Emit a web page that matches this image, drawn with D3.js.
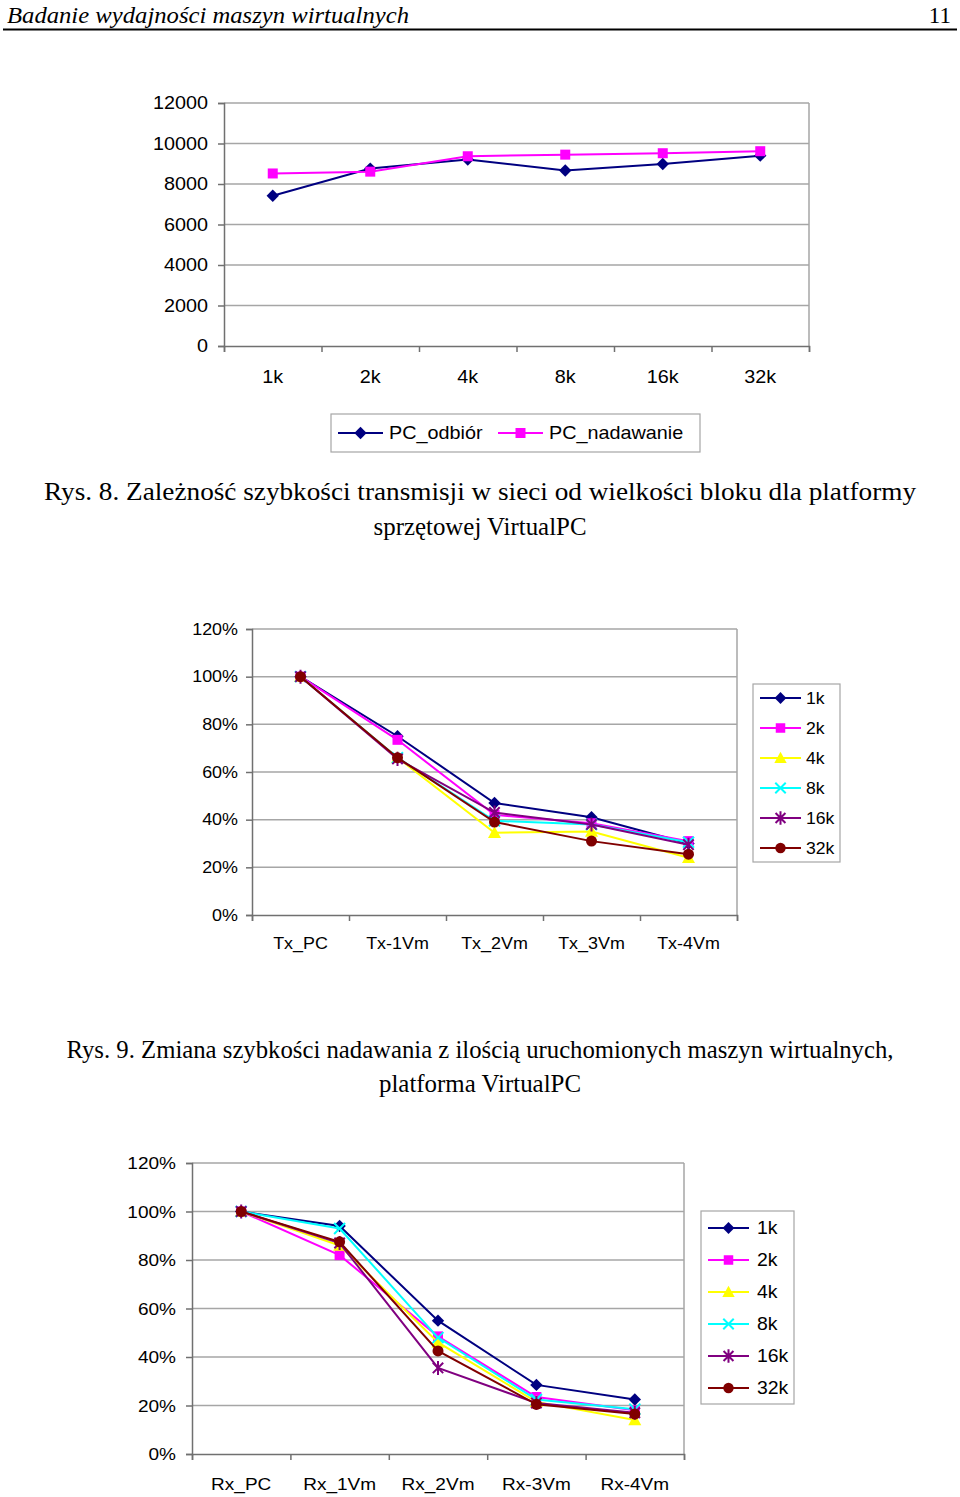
<!DOCTYPE html>
<html>
<head>
<meta charset="utf-8">
<script src="https://cdn.jsdelivr.net/npm/d3@7"></script>
<style>
  html,body{margin:0;padding:0;background:#fff;}
  svg{display:block;}
</style>
</head>
<body>
<script>
// ---------------- DATA ----------------
const blockSizes = ["1k", "2k", "4k", "8k", "16k", "32k"];
const pcOdbior = [7420, 8760, 9210, 8670, 8990, 9400];
const pcNadawanie = [8520, 8610, 9370, 9450, 9520, 9620];
const chart1Ticks = [0, 2000, 4000, 6000, 8000, 10000, 12000];

const txCategories = ["Tx_PC", "Tx-1Vm", "Tx_2Vm", "Tx_3Vm", "Tx-4Vm"];
const tx1k  = [100, 75,   47,   41,   30];
const tx2k  = [100, 73.5, 42,   38.5, 31];
const tx4k  = [100, 66,   34.5, 35,   24];
const tx8k  = [100, 66,   39.5, 38,   30.5];
const tx16k = [100, 65.5, 43,   38,   29.5];
const tx32k = [100, 66,   39,   31,   25.5];

const rxCategories = ["Rx_PC", "Rx_1Vm", "Rx_2Vm", "Rx-3Vm", "Rx-4Vm"];
const rx1k  = [100, 94,   55,   28.5, 22.5];
const rx2k  = [100, 82,   48.5, 23.5, 18];
const rx4k  = [100, 86,   46,   21.5, 14];
const rx8k  = [100, 93,   48,   22.5, 18.5];
const rx16k = [100, 87,   35.5, 21,   17];
const rx32k = [100, 87.5, 42.5, 20.5, 16.5];
const percentTicks = [0, 20, 40, 60, 80, 100, 120];

const seriesNames = ["1k", "2k", "4k", "8k", "16k", "32k"];
const seriesColors = ["#000080", "#FF00FF", "#FFFF00", "#00FFFF", "#800080", "#800000"];
const seriesMarkers = ["diamond", "square", "triangle", "x", "star", "circle"];

// ---------------- SVG ----------------
const W = 960, H = 1497;
const svg = d3.select("body").append("svg").attr("width", W).attr("height", H);
svg.append("rect").attr("width", W).attr("height", H).attr("fill", "#fff");

const SANS = "'Liberation Sans', Arial, sans-serif";
const SERIF = "'Liberation Serif', 'Times New Roman', serif";

function txt(g, x, y, s, o) {
  o = o || {};
  const sx = o.sx || 1;
  const t = g.append("text")
    .attr("transform", `translate(${x},${y}) scale(${sx},1)`)
    .attr("font-family", o.family || SANS)
    .attr("font-size", o.size || 16)
    .attr("fill", o.fill || "#000")
    .attr("text-anchor", o.anchor || "start")
    .text(s);
  if (o.italic) t.attr("font-style", "italic");
  if (o.len) t.attr("textLength", o.len).attr("lengthAdjust", "spacingAndGlyphs");
  return t;
}

function marker(g, type, x, y, color, k) {
  k = k || 1;
  switch (type) {
    case "diamond": {
      const r = 6.2 * k;
      g.append("path").attr("d", `M${x},${y - r}L${x + r},${y}L${x},${y + r}L${x - r},${y}Z`).attr("fill", color);
      break;
    }
    case "square": {
      const s = 10 * k;
      g.append("rect").attr("x", x - s / 2).attr("y", y - s / 2).attr("width", s).attr("height", s).attr("fill", color);
      break;
    }
    case "triangle": {
      const r = 6.5 * k;
      g.append("path").attr("d", `M${x},${y - r}L${x + r},${y + r * 0.8}L${x - r},${y + r * 0.8}Z`).attr("fill", color);
      break;
    }
    case "x": {
      const r = 5.5 * k;
      g.append("path").attr("d", `M${x - r},${y - r}L${x + r},${y + r}M${x - r},${y + r}L${x + r},${y - r}`)
        .attr("stroke", color).attr("stroke-width", 2).attr("fill", "none");
      break;
    }
    case "star": {
      const r = 5.2 * k;
      g.append("path").attr("d", `M${x - r},${y - r}L${x + r},${y + r}M${x - r},${y + r}L${x + r},${y - r}M${x},${y - r * 1.35}L${x},${y + r * 1.35}`)
        .attr("stroke", color).attr("stroke-width", 2).attr("fill", "none");
      break;
    }
    case "circle":
      g.append("circle").attr("cx", x).attr("cy", y).attr("r", 5.5 * k).attr("fill", color);
      break;
  }
}

function drawChart(cfg) {
  const g = svg.append("g");
  const x = d3.scaleBand().domain(cfg.cats).range([cfg.x0, cfg.x1]).padding(0);
  const y = d3.scaleLinear().domain([0, cfg.max]).range([cfg.y1, cfg.y0]);

  // gridlines
  g.append("g").selectAll("line").data(cfg.ticks.filter(t => t > 0)).join("line")
    .attr("x1", cfg.x0).attr("x2", cfg.x1)
    .attr("y1", d => y(d)).attr("y2", d => y(d))
    .attr("stroke", "#a6a6a6").attr("stroke-width", 1.5);
  // right border
  g.append("line").attr("x1", cfg.x1).attr("x2", cfg.x1).attr("y1", cfg.y0).attr("y2", cfg.y1)
    .attr("stroke", "#a6a6a6").attr("stroke-width", 1.5);

  // y axis
  const ya = d3.axisLeft(y).tickValues(cfg.ticks).tickSize(6).tickFormat("");
  const yg = g.append("g").attr("transform", `translate(${cfg.x0},0)`).call(ya);
  yg.selectAll("path,line").attr("stroke", "#707070").attr("stroke-width", 1.5);
  cfg.ticks.forEach(t => {
    txt(g, cfg.x0 - cfg.labelGap, y(t) + cfg.fs * 0.36, cfg.fmt(t), { size: cfg.fs, anchor: "end", sx: cfg.sx });
  });

  // x axis (ticks at category boundaries)
  const xa = d3.axisBottom(d3.scaleLinear().domain([0, cfg.cats.length]).range([cfg.x0, cfg.x1]))
    .tickValues(d3.range(cfg.cats.length + 1)).tickSize(6).tickFormat("");
  const xg = g.append("g").attr("transform", `translate(0,${cfg.y1})`).call(xa);
  xg.selectAll("path,line").attr("stroke", "#707070").attr("stroke-width", 1.5);
  cfg.cats.forEach(c => {
    txt(g, x(c) + x.bandwidth() / 2, cfg.catY, c, { size: cfg.fs, anchor: "middle", sx: cfg.sx });
  });

  // series
  const line = d3.line().x((d, i) => x(cfg.cats[i]) + x.bandwidth() / 2).y(d => y(d));
  cfg.series.forEach(s => {
    g.append("path").datum(s.values).attr("d", line).attr("fill", "none")
      .attr("stroke", s.color).attr("stroke-width", 2);
    s.values.forEach((v, i) => marker(g, s.marker, x(cfg.cats[i]) + x.bandwidth() / 2, y(v), s.color));
  });
}

function drawLegendV(cfg) {
  const g = svg.append("g");
  g.append("rect").attr("x", cfg.x).attr("y", cfg.y).attr("width", cfg.w).attr("height", cfg.h)
    .attr("fill", "#fff").attr("stroke", "#a6a6a6").attr("stroke-width", 1.2);
  cfg.series.forEach((s, i) => {
    const cy = cfg.y + cfg.first + i * cfg.step;
    g.append("line").attr("x1", cfg.x + 7).attr("x2", cfg.x + 48).attr("y1", cy).attr("y2", cy)
      .attr("stroke", s.color).attr("stroke-width", 2);
    marker(g, s.marker, cfg.x + 27.5, cy, s.color, 0.95);
    txt(g, cfg.x + cfg.textX, cy + cfg.fs * 0.36, s.name, { size: cfg.fs, sx: cfg.sx });
  });
}

// ---------------- HEADER ----------------
txt(svg, 7, 22.5, "Badanie wydajności maszyn wirtualnych", { family: SERIF, size: 23, italic: true, len: 402 });
txt(svg, 951, 22.5, "11", { family: SERIF, size: 23, anchor: "end" });
svg.append("line").attr("x1", 3).attr("x2", 957).attr("y1", 29.5).attr("y2", 29.5)
  .attr("stroke", "#000").attr("stroke-width", 1.8);

// ---------------- CHART 1 ----------------
drawChart({
  x0: 224, x1: 809, y0: 103, y1: 346, max: 12000, ticks: chart1Ticks, fmt: d => String(d),
  cats: blockSizes, fs: 18, sx: 1.1, labelGap: 16, catY: 383,
  series: [
    { name: "PC_odbiór", values: pcOdbior, color: "#000080", marker: "diamond" },
    { name: "PC_nadawanie", values: pcNadawanie, color: "#FF00FF", marker: "square" }
  ]
});
// horizontal legend
(function () {
  const g = svg.append("g");
  g.append("rect").attr("x", 331).attr("y", 414).attr("width", 369).attr("height", 38)
    .attr("fill", "#fff").attr("stroke", "#a6a6a6").attr("stroke-width", 1.2);
  const items = [
    { name: "PC_odbiór", color: "#000080", marker: "diamond", lx: 338, tx: 389 },
    { name: "PC_nadawanie", color: "#FF00FF", marker: "square", lx: 498, tx: 549 }
  ];
  items.forEach(it => {
    g.append("line").attr("x1", it.lx).attr("x2", it.lx + 45).attr("y1", 433).attr("y2", 433)
      .attr("stroke", it.color).attr("stroke-width", 2);
    marker(g, it.marker, it.lx + 22.5, 433, it.color, 1);
    txt(g, it.tx, 433 + 18 * 0.36, it.name, { size: 18, sx: 1.1 });
  });
})();

txt(svg, 480, 500, "Rys. 8. Zależność szybkości transmisji w sieci od wielkości bloku dla platformy", { family: SERIF, size: 25, anchor: "middle", len: 872 });
txt(svg, 480, 535, "sprzętowej VirtualPC", { family: SERIF, size: 25, anchor: "middle", len: 213 });

// ---------------- CHART 2 ----------------
const txSeries = [tx1k, tx2k, tx4k, tx8k, tx16k, tx32k].map((v, i) => ({
  name: seriesNames[i], values: v, color: seriesColors[i], marker: seriesMarkers[i]
}));
drawChart({
  x0: 252, x1: 737, y0: 629, y1: 915, max: 120, ticks: percentTicks, fmt: d => d + "%",
  cats: txCategories, fs: 16, sx: 1.12, labelGap: 14, catY: 949, series: txSeries
});
drawLegendV({ x: 753, y: 684, w: 87, h: 178, first: 14, step: 30, textX: 53, fs: 16, sx: 1.1, series: txSeries });

txt(svg, 480, 1058, "Rys. 9. Zmiana szybkości nadawania z ilością uruchomionych maszyn wirtualnych,", { family: SERIF, size: 25, anchor: "middle", len: 827 });
txt(svg, 480, 1092, "platforma VirtualPC", { family: SERIF, size: 25, anchor: "middle", len: 202 });

// ---------------- CHART 3 ----------------
const rxSeries = [rx1k, rx2k, rx4k, rx8k, rx16k, rx32k].map((v, i) => ({
  name: seriesNames[i], values: v, color: seriesColors[i], marker: seriesMarkers[i]
}));
drawChart({
  x0: 192, x1: 684, y0: 1163, y1: 1454, max: 120, ticks: percentTicks, fmt: d => d + "%",
  cats: rxCategories, fs: 17, sx: 1.12, labelGap: 16, catY: 1490, series: rxSeries
});
drawLegendV({ x: 701, y: 1211, w: 93, h: 193, first: 17, step: 32, textX: 56, fs: 18, sx: 1.08, series: rxSeries });
</script>
</body>
</html>
